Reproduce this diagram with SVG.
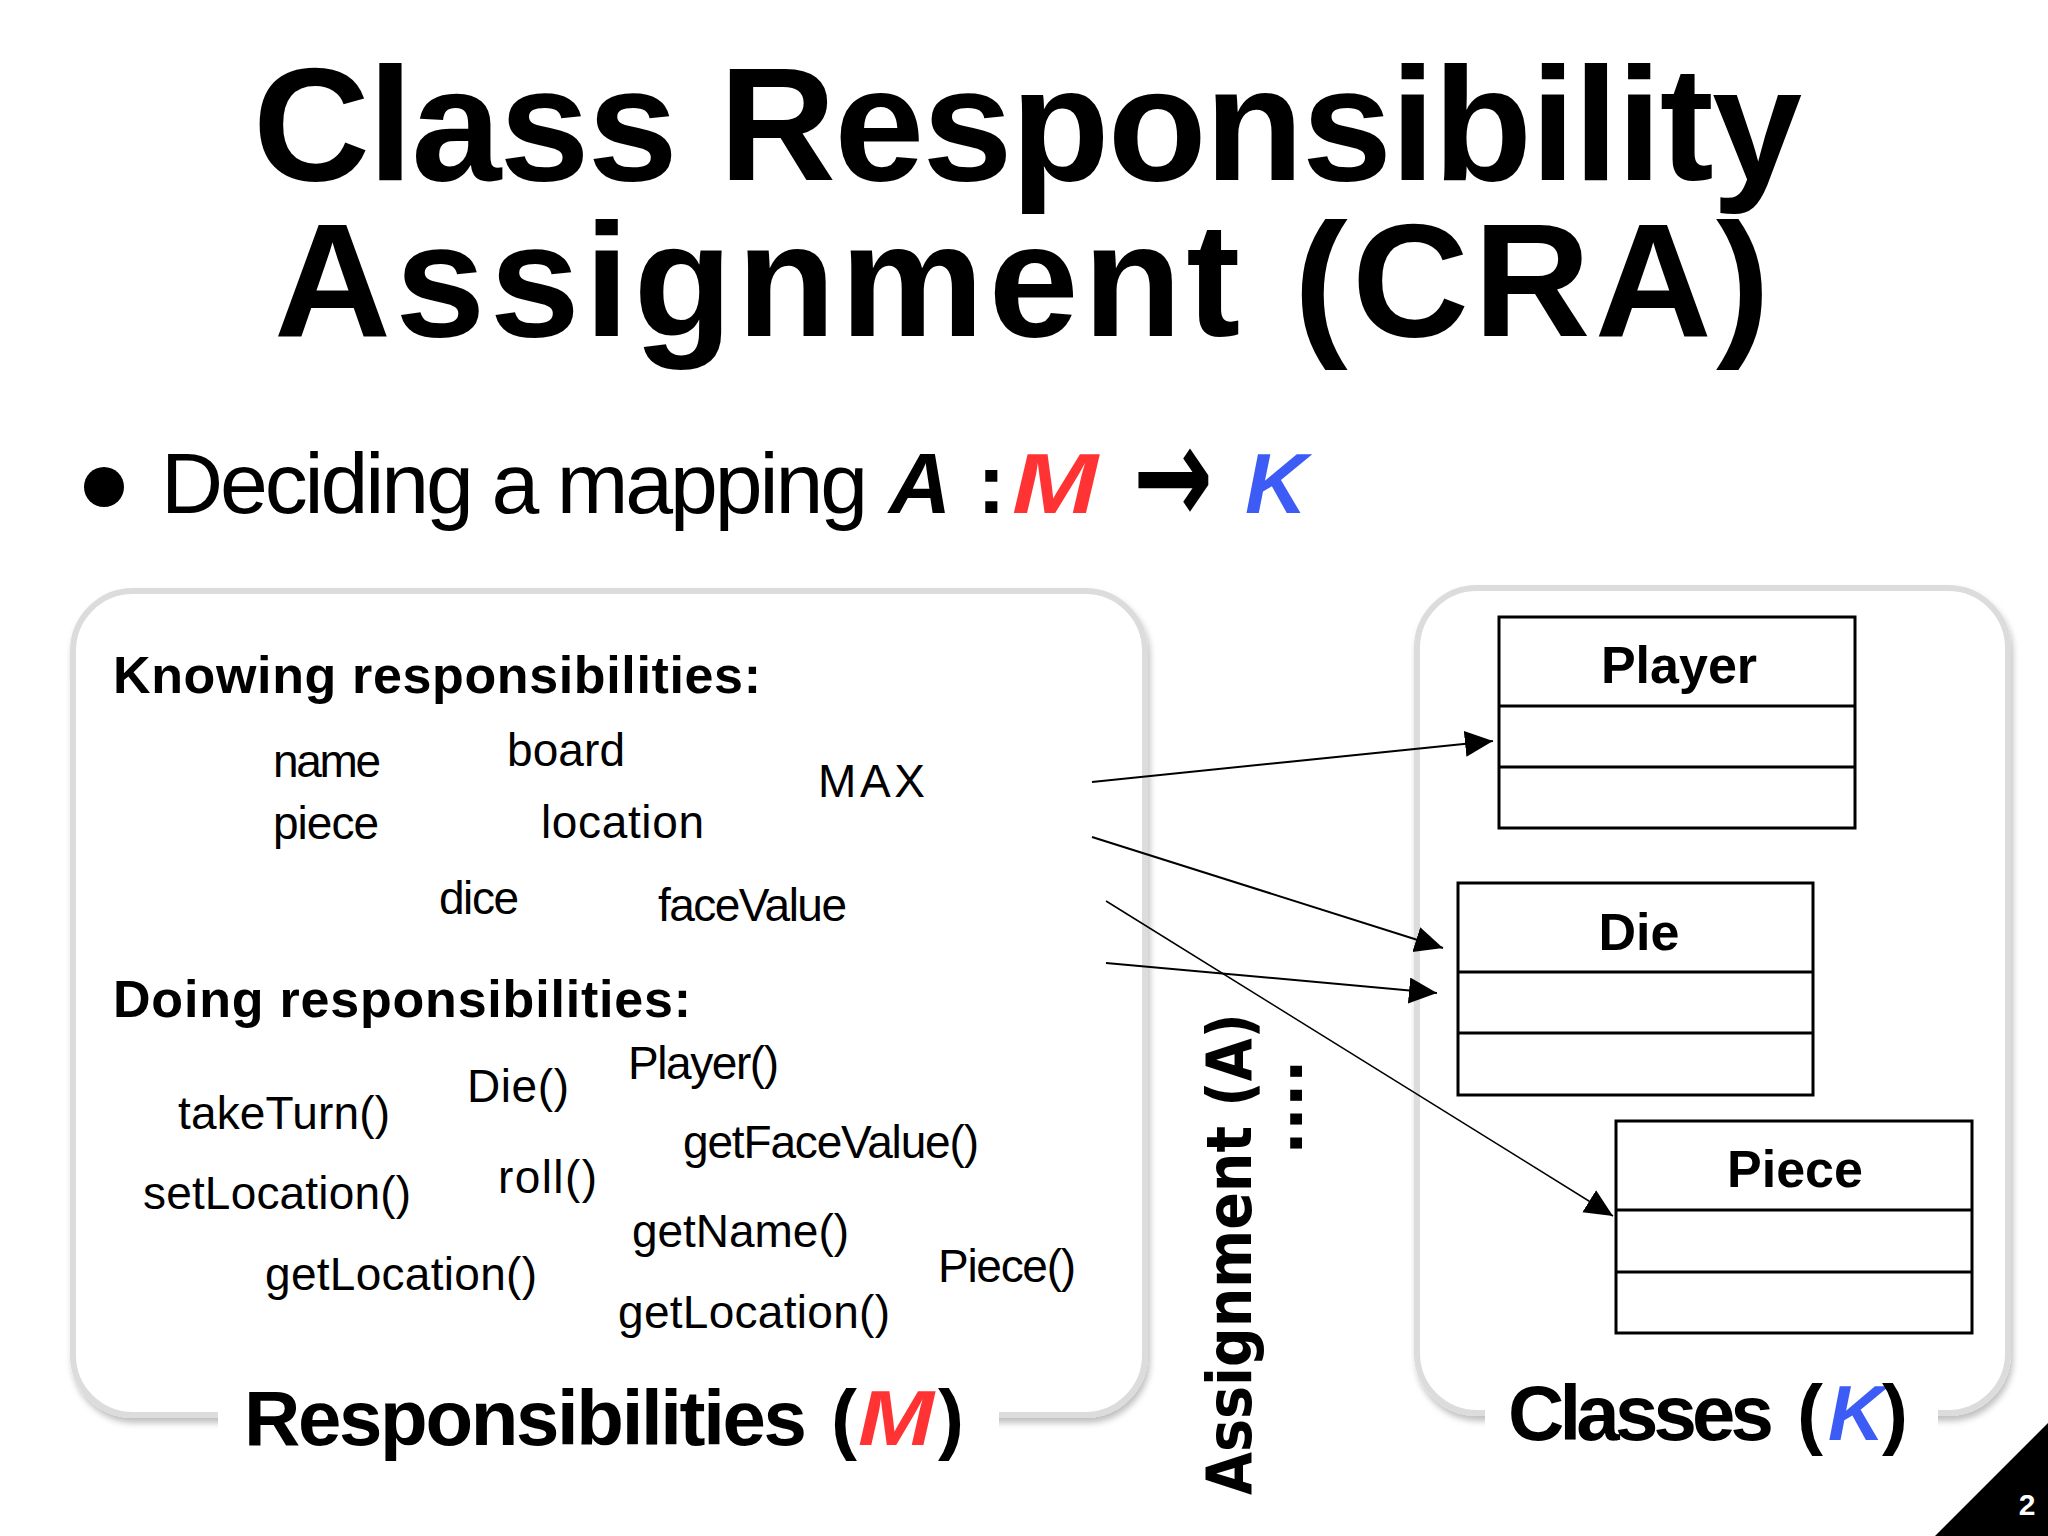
<svg xmlns="http://www.w3.org/2000/svg" width="2048" height="1536" viewBox="0 0 2048 1536">
<defs>
<style>
text{font-family:"Liberation Sans",Arial,sans-serif;fill:#000}
.title{font-size:162px;font-weight:bold}
.item{font-size:46px}
.head{font-size:52px;font-weight:bold}
.lbl{font-size:78px;font-weight:bold}
.cls{font-size:52px;font-weight:bold;text-anchor:middle}
.bi{font-weight:bold;font-style:italic}
.box{fill:#fff;stroke:#000;stroke-width:3}
.div{stroke:#000;stroke-width:3}
.panel{fill:#fff;stroke:#dcdcdc;stroke-width:6;filter:url(#sh)}
.conn{stroke:#000;stroke-width:2;fill:none;marker-end:url(#ah)}
.red{fill:#ff3333}
.blue{fill:#3d5cf5}
.vert{font-family:"DejaVu Sans",Verdana,sans-serif;font-weight:bold;font-size:63px}
</style>
<filter id="sh" x="-5%" y="-5%" width="110%" height="115%">
<feDropShadow dx="2" dy="5" stdDeviation="3" flood-color="#000" flood-opacity="0.25"/>
</filter>
<marker id="ah" markerUnits="userSpaceOnUse" markerWidth="30" markerHeight="28" refX="28" refY="13" orient="auto" viewBox="0 0 30 28">
<path d="M0,0 L28,13 L0,26 z" fill="#000"/>
</marker>
</defs>
<rect width="2048" height="1536" fill="#fff"/>

<g id="title">
<text class="title" x="253" y="180" textLength="1549">Class Responsibility</text>
<text class="title" x="274" y="336" textLength="1496">Assignment (CRA)</text>
</g>

<g id="bullet">
<circle cx="104" cy="487" r="20" fill="#000"/>
<text x="161" y="513" font-size="86" textLength="707">Deciding a mapping</text>
<text class="bi" x="889" y="513" font-size="86">A</text>
<text x="977" y="513" font-size="86" font-weight="bold">:</text>
<text class="bi red" x="1012" y="513" font-size="86" textLength="86" lengthAdjust="spacingAndGlyphs">M</text>
<text x="1133" y="524" font-size="140" textLength="80" lengthAdjust="spacingAndGlyphs" style="font-family:'DejaVu Sans',sans-serif;font-weight:bold">→</text>
<text class="bi blue" x="1245" y="513" font-size="86">K</text>
</g>

<g id="responsibilities-panel">
<rect class="panel" x="73" y="591" width="1072" height="824" rx="60" ry="60"/>
<rect x="218" y="1400" width="781" height="40" fill="#fff"/>
<text class="head" x="113" y="693" textLength="648">Knowing responsibilities:</text>
<text class="item" x="273" y="777" textLength="108">name</text>
<text class="item" x="507" y="766" textLength="118">board</text>
<text class="item" x="818" y="797" textLength="107">MAX</text>
<text class="item" x="273" y="839" textLength="106">piece</text>
<text class="item" x="541" y="838" textLength="163">location</text>
<text class="item" x="439" y="914" textLength="80">dice</text>
<text class="item" x="658" y="921" textLength="189">faceValue</text>
<text class="head" x="113" y="1017" textLength="578">Doing responsibilities:</text>
<text class="item" x="628" y="1079" textLength="151">Player()</text>
<text class="item" x="467" y="1102" textLength="102">Die()</text>
<text class="item" x="178" y="1129" textLength="212">takeTurn()</text>
<text class="item" x="683" y="1158" textLength="296">getFaceValue()</text>
<text class="item" x="498" y="1193" textLength="99">roll()</text>
<text class="item" x="143" y="1209" textLength="268">setLocation()</text>
<text class="item" x="632" y="1247" textLength="217">getName()</text>
<text class="item" x="938" y="1282" textLength="138">Piece()</text>
<text class="item" x="265" y="1290" textLength="272">getLocation()</text>
<text class="item" x="618" y="1328" textLength="272">getLocation()</text>
<text class="lbl" x="244" y="1445" textLength="563">Responsibilities</text>
<text class="lbl" x="831" y="1445">(</text>
<text class="lbl bi red" x="858" y="1445" textLength="76" lengthAdjust="spacingAndGlyphs">M</text>
<text class="lbl" x="938" y="1445">)</text>
</g>

<g id="classes-panel">
<rect class="panel" x="1417" y="588" width="591" height="825" rx="60" ry="60"/>
<rect x="1485" y="1398" width="453" height="40" fill="#fff"/>
<text class="lbl" x="1508" y="1440" textLength="266">Classes</text>
<text class="lbl" x="1797" y="1440">(</text>
<text class="lbl bi blue" x="1828" y="1440">K</text>
<text class="lbl" x="1882" y="1440">)</text>
</g>

<g id="class-player">
<rect class="box" x="1499" y="617" width="356" height="211"/>
<line class="div" x1="1499" y1="706" x2="1855" y2="706"/>
<line class="div" x1="1499" y1="767" x2="1855" y2="767"/>
<text class="cls" x="1679" y="683">Player</text>
</g>

<g id="class-die">
<rect class="box" x="1458" y="883" width="355" height="212"/>
<line class="div" x1="1458" y1="972" x2="1813" y2="972"/>
<line class="div" x1="1458" y1="1033" x2="1813" y2="1033"/>
<text class="cls" x="1639" y="950">Die</text>
</g>

<g id="class-piece">
<rect class="box" x="1616" y="1121" width="356" height="212"/>
<line class="div" x1="1616" y1="1210" x2="1972" y2="1210"/>
<line class="div" x1="1616" y1="1272" x2="1972" y2="1272"/>
<text class="cls" x="1795" y="1187">Piece</text>
</g>

<g id="assignment-label">
<text class="vert" transform="translate(1251,1495) rotate(-90)" textLength="482" lengthAdjust="spacingAndGlyphs">Assignment (A)</text>
<text class="vert" transform="translate(1302,1155) rotate(-90)">....</text>
</g>

<g id="connectors">
<line class="conn" x1="1092" y1="782" x2="1493" y2="741"/>
<line class="conn" x1="1092" y1="837" x2="1443" y2="948"/>
<line class="conn" x1="1106" y1="963" x2="1437" y2="993"/>
<line class="conn" style="stroke-width:1.5" x1="1106" y1="901" x2="1613" y2="1216"/>
</g>

<g id="page-number">
<polygon points="1935,1536 2048,1423 2048,1536" fill="#000"/>
<text x="2027" y="1515" font-size="30" font-weight="bold" text-anchor="middle" style="fill:#fff">2</text>
</g>
</svg>
